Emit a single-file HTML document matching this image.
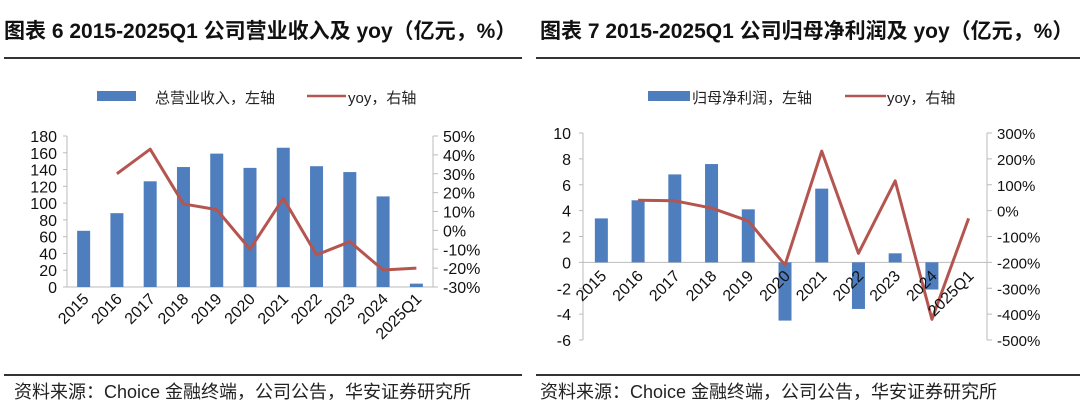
<!DOCTYPE html>
<html><head><meta charset="utf-8"><style>
body{margin:0;background:#fff;width:1080px;height:402px;overflow:hidden;font-family:"Liberation Sans","Noto Sans CJK SC",sans-serif}
</style></head><body>
<svg id="s" width="1080" height="402" xmlns="http://www.w3.org/2000/svg" font-family="Liberation Sans, Noto Sans CJK SC, sans-serif">
<text x="4" y="38" font-size="21" font-weight="bold" fill="#111">图表 6 2015-2025Q1 公司营业收入及 yoy（亿元，%）</text>
<text x="540" y="38" font-size="21" font-weight="bold" fill="#111">图表 7 2015-2025Q1 公司归母净利润及 yoy（亿元，%）</text>
<line x1="4" y1="58" x2="522" y2="58" stroke="#333" stroke-width="2"/>
<line x1="536" y1="58" x2="1080" y2="58" stroke="#333" stroke-width="2"/>
<line x1="4" y1="375" x2="522" y2="375" stroke="#333" stroke-width="2"/>
<line x1="536" y1="375" x2="1080" y2="375" stroke="#333" stroke-width="2"/>
<text x="14" y="398" font-size="18" fill="#222">资料来源：Choice 金融终端，公司公告，华安证券研究所</text>
<text x="540" y="398" font-size="18" fill="#222">资料来源：Choice 金融终端，公司公告，华安证券研究所</text>
<rect x="97" y="91" width="39" height="10" fill="#4f7ebf"/>
<text x="155" y="103" font-size="15" fill="#222">总营业收入，左轴</text>
<line x1="307" y1="96" x2="346" y2="96" stroke="#b55550" stroke-width="2.5"/>
<text x="348" y="103" font-size="15" fill="#222">yoy，右轴</text>
<rect x="648" y="91" width="42" height="10" fill="#4f7ebf"/>
<text x="692" y="103" font-size="15" fill="#222">归母净利润，左轴</text>
<line x1="845" y1="96" x2="886" y2="96" stroke="#b55550" stroke-width="2.5"/>
<text x="887" y="103" font-size="15" fill="#222">yoy，右轴</text>
<g id="g"></g>
</svg>
<script>
const categories=["2015","2016","2017","2018","2019","2020","2021","2022","2023","2024","2025Q1"];
const revenue=[67,88,126,143,159,142,166,144,137,108,4];
const revenueYoy=[null,30,43,14,11,-10,17,-13,-6,-21,-20];
const profit=[3.4,4.8,6.8,7.6,4.1,-4.5,5.7,-3.6,0.7,-2.1,0];
const profitYoy=[null,40,38,10,-40,-210,230,-165,115,-420,-30];
const leftTicksA=[0,20,40,60,80,100,120,140,160,180];
const rightTicksA=[-30,-20,-10,0,10,20,30,40,50];
const leftTicksB=[-6,-4,-2,0,2,4,6,8,10];
const rightTicksB=[-500,-400,-300,-200,-100,0,100,200,300];
const NS="http://www.w3.org/2000/svg";
const g=document.getElementById('g');
function mk(t,a,txt){const e=document.createElementNS(NS,t);for(const k in a)e.setAttribute(k,a[k]);if(txt!==undefined)e.textContent=txt;g.appendChild(e);return e;}
function chart(o){
 const n=categories.length,bw=(o.x1-o.x0)/n;
 const yL=v=>o.yb-(v-o.lmin)/(o.lmax-o.lmin)*(o.yb-o.yt);
 const yR=v=>o.yb-(v-o.rmin)/(o.rmax-o.rmin)*(o.yb-o.yt);
 const xc=i=>o.x0+bw*(i+0.5);
 let e=mk('line',{x1:o.x0,y1:o.yt,x2:o.x0,y2:o.yb,stroke:'#bbb'});
 
 e=mk('line',{x1:o.x1,y1:o.yt,x2:o.x1,y2:o.yb,stroke:'#bbb'});
 
 o.lt.forEach(v=>{e=mk('text',{x:o.x0-o.lpad,y:yL(v)+6,'font-size':16,'text-anchor':'end',fill:'#111'},String(v));
  
  e=mk('line',{x1:o.x0-4,y1:yL(v),x2:o.x0,y2:yL(v),stroke:'#bbb'});
  });
 o.rt.forEach(v=>{e=mk('text',{x:o.x1+10,y:yR(v)+6,'font-size':o.rfs,fill:'#111'},v+'%');
  
  e=mk('line',{x1:o.x1,y1:yR(v),x2:o.x1+5,y2:yR(v),stroke:'#bbb'});
  });
 e=mk('line',{x1:o.x0,y1:yL(0),x2:o.x1,y2:yL(0),stroke:'#bbb'});
 
 o.bars.forEach((v,i)=>{if(!v)return;const y0=yL(0),y=yL(v);
  e=mk('rect',{x:xc(i)-o.bwid/2,y:Math.min(y,y0),width:o.bwid,height:Math.abs(y0-y),fill:'#4f7ebf'});
  });
 const pts=[];o.line.forEach((v,i)=>{if(v!==null)pts.push(xc(i)+','+yR(v));});
 e=mk('polyline',{points:pts.join(' '),fill:'none',stroke:'#b55550','stroke-width':3,'stroke-linejoin':'round'});
 
 categories.forEach((c,i)=>{const x=xc(i)+6,y=o.ly;
  e=mk('text',{x:x,y:y,'font-size':16,'text-anchor':'end',fill:'#111',transform:`rotate(-45 ${x} ${y})`},c);
  });
}
chart({p:'revenue',x0:67,x1:433,yt:136,yb:287,lmin:0,lmax:180,rmin:-30,rmax:50,lt:leftTicksA,rt:rightTicksA,bars:revenue,line:revenueYoy,bwid:13,ly:300,lpad:10,rfs:16});
chart({p:'profit',x0:583,x1:987,yt:133,yb:340,lmin:-6,lmax:10,rmin:-500,rmax:300,lt:leftTicksB,rt:rightTicksB,bars:profit,line:profitYoy,bwid:13,ly:277,lpad:12,rfs:15});
</script>
</body></html>
